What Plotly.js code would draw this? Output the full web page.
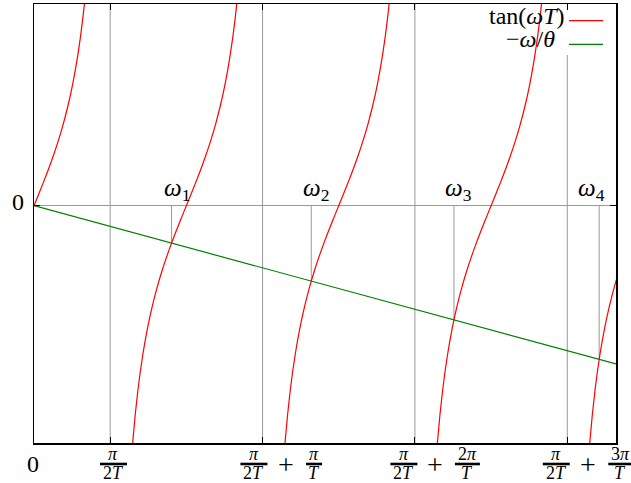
<!DOCTYPE html>
<html><head><meta charset="utf-8">
<script src="https://cdn.plot.ly/plotly-3.0.1.min.js"></script>
<style>html,body{margin:0;padding:0;background:#fff}</style>
</head><body><div id="chart" style="width:631px;height:483px"></div>
<script>
// ---- data ----
// tan(u) read at offsets u around each branch centre (kπ, T = 1)
const uOffsets  = [-1.2,-1.1,-1.0,-0.9,-0.8,-0.7,-0.6,-0.5,-0.4,-0.3,-0.2,-0.1,0,0.1,0.2,0.3,0.4,0.5,0.6,0.7,0.8,0.9,1.0,1.1,1.2];
const tanValues = [-2.5722,-1.9648,-1.5574,-1.2602,-1.0296,-0.8423,-0.6841,-0.5463,-0.4228,-0.3093,-0.2027,-0.1003,0,0.1003,0.2027,0.3093,0.4228,0.5463,0.6841,0.8423,1.0296,1.2602,1.5574,1.9648,2.5722];
const branchCentres = [0, 3.14159, 6.28319, 9.42478, 12.56637];
// -omega/theta line (theta = 9)
const lineX = [0, 12];
const lineY = [0, -1.3333];
// intersection points omega_1..omega_4
const omegaRoots = [2.8363, 5.7172, 8.6587, 11.6532];
const rootY      = [-0.3151, -0.6352, -0.9621, -1.2948];
const omegaLabels = ['<i>ω</i><sub>1</sub>','<i>ω</i><sub>2</sub>','<i>ω</i><sub>3</sub>','<i>ω</i><sub>4</sub>'];
// x ticks: π/2T + kπ/T
const xTickVals = [1.5708, 4.7124, 7.8540, 10.9956];
const addNumerators = ['', '<i>π</i>', '2<i>π</i>', '3<i>π</i>'];
const legendLabels = ['tan(<i>ωT</i>)', '−<i>ω</i>/<i>θ</i>'];
const legendColors = ['#ff0000', '#008000'];

const xRange = [0, 12], yRange = [-2, 1.7];
const serif = "'Liberation Serif', 'Times New Roman', serif";
const mainFont = {family: serif, size: 24, color: '#000'};
const omegaFont = {family: serif, size: 25, color: '#000'};
const plusFont = {family: serif, size: 28, color: '#000'};
const fracFont = {family: serif, size: 18, color: '#000'};
const gray = '#9a9a9a';

// ---- traces ----
const tanX = [], tanY = [];
branchCentres.forEach(c => {
  uOffsets.forEach((u, i) => { tanX.push(c + u); tanY.push(tanValues[i]); });
  tanX.push(null); tanY.push(null);
});
const dropX = [], dropY = [];
omegaRoots.forEach((r, i) => { dropX.push(r, r, null); dropY.push(0, rootY[i], null); });

const traces = [
  {x: dropX, y: dropY, mode: 'lines', line: {color: gray, width: 1}, hoverinfo: 'skip'},
  {x: tanX, y: tanY, mode: 'lines', line: {color: legendColors[0], width: 1.2, shape: 'spline', smoothing: 1}, connectgaps: false},
  {x: lineX, y: lineY, mode: 'lines', line: {color: legendColors[1], width: 1.2}}
];

// ---- decorations ----
const shapes = [], annotations = [];
const toPaperX = v => (v - xRange[0]) / (xRange[1] - xRange[0]);
xTickVals.forEach(v => shapes.push({type: 'line', layer: 'below', xref: 'x', yref: 'paper', x0: v, x1: v, y0: 0, y1: 1, line: {color: gray, width: 1}}));
// legend background
shapes.push({type: 'rect', layer: 'below', xref: 'paper', yref: 'paper', x0: 0.75, x1: 1, y0: 0.8838, y1: 1, fillcolor: '#fff', line: {width: 0}});

function addFrac(xval, shift, num, den, w) {
  annotations.push({xref: 'x', yref: 'paper', x: xval, y: 0, xshift: shift, yshift: -11, text: num, showarrow: false, xanchor: 'center', yanchor: 'middle', font: fracFont});
  annotations.push({xref: 'x', yref: 'paper', x: xval, y: 0, xshift: shift, yshift: -29.5, text: den, showarrow: false, xanchor: 'center', yanchor: 'middle', font: fracFont});
  shapes.push({type: 'line', xref: 'paper', yref: 'paper', xsizemode: 'pixel', ysizemode: 'pixel', xanchor: toPaperX(xval), yanchor: 0, x0: shift - w / 2, x1: shift + w / 2, y0: -21, y1: -21, line: {color: '#000', width: 2.6}});
}
function addText(xref, yref, x, y, xs, ys, text, font, xa) {
  annotations.push({xref: xref, yref: yref, x: x, y: y, xshift: xs, yshift: ys, text: text, showarrow: false, xanchor: xa || 'center', yanchor: 'middle', font: font});
}
// "0" labels
addText('paper', 'y', 0, 0, -16, 4, '0', mainFont);
addText('x', 'paper', 0, 0, -1, -21, '0', mainFont);
// x tick labels
const frac1Shift = [3.3, -8.6, -11, -11];
const plusShift  = [0, 23.5, 20, 21];
const frac2Shift = [0, 51.5, 52.5, 53];
const frac2W     = [0, 16, 25, 24];
xTickVals.forEach((v, k) => {
  addFrac(v, frac1Shift[k], '<i>π</i>', '2<i>T</i>', 27);
  if (k > 0) {
    addText('x', 'paper', v, 0, plusShift[k], -21, '+', plusFont);
    addFrac(v, frac2Shift[k], addNumerators[k], '<i>T</i>', frac2W[k]);
  }
});
// omega labels
const omegaShift = [5, 4.7, 5, -8];
omegaRoots.forEach((r, i) => addText('x', 'y', r, 0, omegaShift[i], 16, omegaLabels[i], omegaFont));
// legend
const legRightEdge = [toPaperX((566.7 - 34) / 48.5), toPaperX((557 - 34) / 48.5)];
const legTextY = [-11.5, -35];
const legLineY = [-16.7, -40.3];
legendLabels.forEach((t, i) => {
  addText('paper', 'paper', legRightEdge[i], 1, 0, legTextY[i], t, mainFont, 'right');
  shapes.push({type: 'line', xref: 'paper', yref: 'paper', x0: 0.9192, x1: 0.9777, ysizemode: 'pixel', yanchor: 1, y0: legLineY[i], y1: legLineY[i], line: {color: legendColors[i], width: 1.2}});
});

const layout = {
  width: 631, height: 483,
  margin: {l: 34, r: 15, t: 4, b: 40},
  paper_bgcolor: '#fff', plot_bgcolor: '#fff',
  showlegend: false,
  xaxis: {range: xRange, tickvals: xTickVals, ticks: 'inside', ticklen: 6, tickcolor: '#000', tickwidth: 1,
          showticklabels: false, showgrid: false, zeroline: false, showline: true, linecolor: '#000', linewidth: 1.5, mirror: 'ticks'},
  yaxis: {range: yRange, tickvals: [0], ticks: 'inside', ticklen: 6, tickcolor: '#000', tickwidth: 1,
          showticklabels: false, showgrid: false, zeroline: true, zerolinecolor: gray, zerolinewidth: 1,
          showline: true, linecolor: '#000', linewidth: 1.5, mirror: 'ticks'},
  shapes: shapes,
  annotations: annotations
};
Plotly.newPlot('chart', traces, layout, {staticPlot: true});
</script>
</body></html>
